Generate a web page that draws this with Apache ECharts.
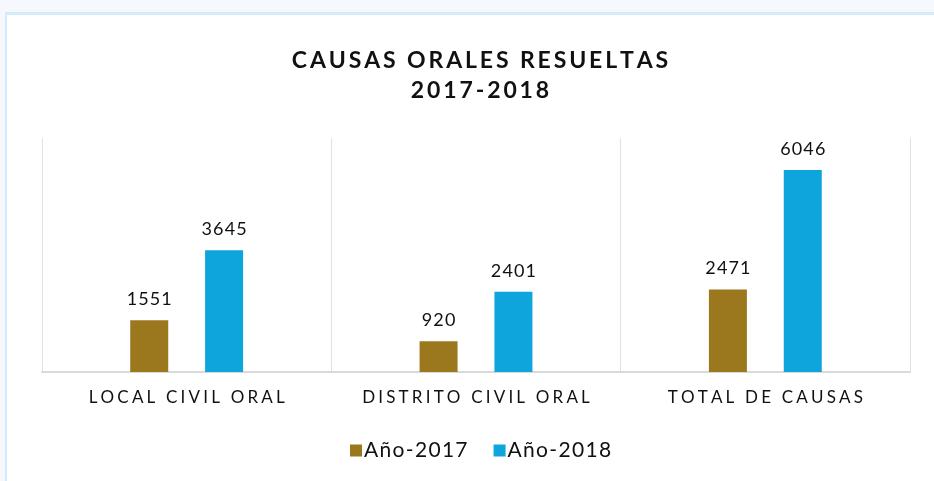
<!DOCTYPE html>
<html>
<head>
<meta charset="utf-8">
<style>
  body { margin: 0; background: #f5f9fd; }
  #frame { position: absolute; left: 5px; top: 12px; width: 929px; height: 469px;
           background: #fff; border-left: 2px solid #d4ebf9; border-top: 3px solid #d4ebf9; }
  #chart { position: absolute; left: 0; top: 0; width: 934px; height: 481px; }
</style>
</head>
<body>
<div id="frame"></div>
<div id="chart"></div>
<script src="https://cdn.jsdelivr.net/npm/echarts@6/dist/echarts.min.js"></script>
<script type="text/javascript">
  var categories = ['LOCAL CIVIL ORAL', 'DISTRITO CIVIL ORAL', 'TOTAL DE CAUSAS'];
  var values2017 = [1551, 920, 2471];
  var values2018 = [3645, 2401, 6046];
  var seriesNames = ['Año-2017', 'Año-2018'];

  // separa las letras (el original tiene espaciado amplio)
  var spaced = function (s, sep) {
      return String(s).split('').join(sep);
  };

  var myChart = echarts.init(document.getElementById('chart'));
  var fontName = 'Lato';
  var option = {
      backgroundColor: 'transparent',
      title: {
          text: spaced('CAUSAS ORALES RESUELTAS', '\u2009') + '\n' + spaced('2017-2018', '\u2009'),
          left: 475,
          top: 41,
          textAlign: 'center',
          textStyle: {
              fontFamily: fontName,
              fontWeight: 'bold',
              fontSize: 23,
              lineHeight: 30,
              color: '#111'
          }
      },
      legend: {
          data: seriesNames,
          bottom: 15,
          left: 345,
          itemWidth: 12,
          itemHeight: 12,
          itemGap: 26,
          icon: 'rect',
          formatter: function (n) { return spaced(n, '\u200A'); },
          textStyle: { fontFamily: fontName, fontSize: 21, color: '#111', padding: [0, 0, 0, -3] }
      },
      grid: { left: 42, right: 24, top: 138, bottom: 109 },
      xAxis: {
          type: 'category',
          data: categories,
          axisLine: { lineStyle: { color: '#d9d9d9', width: 2 } },
          axisTick: { show: false },
          splitLine: { show: true, interval: 0, lineStyle: { color: '#e2e2e2', width: 1 } },
          axisLabel: {
              interval: 0,
              fontFamily: fontName,
              fontSize: 17,
              color: '#111',
              margin: 17,
              formatter: function (v) { return spaced(v, '\u2009\u200A'); }
          }
      },
      yAxis: {
          type: 'value',
          min: 0,
          max: 7000,
          show: false,
          splitLine: { show: false }
      },
      series: [
          {
              name: seriesNames[0],
              type: 'bar',
              data: values2017,
              barWidth: 38,
              barGap: '97%',
              itemStyle: { color: '#9b771e' },
              label: {
                  show: true, position: 'top', distance: 12,
                  fontFamily: fontName, fontSize: 18, color: '#111',
                  formatter: function (p) { return spaced(p.value, '\u200A'); }
              }
          },
          {
              name: seriesNames[1],
              type: 'bar',
              data: values2018,
              barWidth: 38,
              itemStyle: { color: '#0ea5dc' },
              label: {
                  show: true, position: 'top', distance: 12,
                  fontFamily: fontName, fontSize: 18, color: '#111',
                  formatter: function (p) { return spaced(p.value, '\u200A'); }
              }
          }
      ]
  };
  myChart.setOption(option);
</script>
</body>
</html>
